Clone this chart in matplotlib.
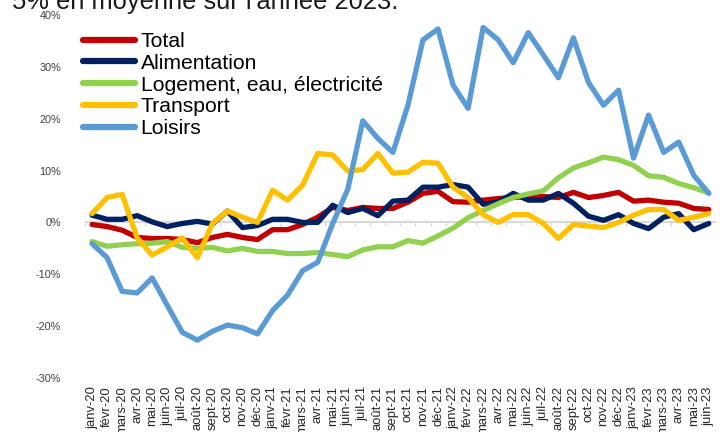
import numpy as np
import matplotlib
matplotlib.use("Agg")
import matplotlib.pyplot as plt

plt.rcParams["font.family"] = ["Liberation Sans", "DejaVu Sans"]

mois = ["janv", "févr", "mars", "avr", "mai", "juin",
        "juil", "août", "sept", "oct", "nov", "déc"]
labels = [m + "-" + a for a in ["20", "21", "22"] for m in mois] + \
         [m + "-23" for m in mois[:6]]

total = [-0.4, -0.8, -1.5, -2.9, -3.1, -3.1, -3.3, -3.9, -2.9, -2.3, -2.9, -3.3,
         -1.4, -1.4, -0.4, 1.0, 2.9, 2.3, 2.9, 2.7, 2.7, 3.9, 5.6, 6.0,
         4.0, 3.9, 4.3, 4.6, 4.8, 5.0, 5.0, 4.8, 5.8, 4.8, 5.2, 5.8,
         4.1, 4.3, 3.9, 3.7, 2.7, 2.5]

alimentation = [1.4, 0.6, 0.6, 1.3, 0.1, -0.8, -0.2, 0.2, -0.3, 2.2, -1.0, -0.6,
                0.6, 0.6, 0.0, 0.0, 3.3, 1.9, 2.7, 1.3, 4.1, 4.3, 6.8, 6.8,
                7.3, 6.8, 3.5, 3.9, 5.6, 4.3, 4.3, 5.6, 3.7, 1.2, 0.4, 1.5,
                -0.2, -1.2, 1.0, 1.7, -1.4, -0.2]

logement = [-3.7, -4.6, -4.3, -4.1, -4.0, -3.7, -4.8, -5.0, -4.8, -5.5, -5.0, -5.6,
            -5.6, -6.0, -6.0, -5.8, -6.2, -6.6, -5.3, -4.7, -4.7, -3.5, -4.0, -2.6,
            -1.1, 0.9, 2.3, 3.6, 4.8, 5.5, 6.1, 8.6, 10.5, 11.5, 12.6, 12.1,
            11.0, 9.0, 8.7, 7.5, 6.7, 5.7]

transport = [1.7, 4.8, 5.4, -3.0, -6.3, -4.7, -3.0, -6.8, -0.2, 2.2, 1.0, 0.0,
             6.2, 4.3, 7.2, 13.3, 13.0, 9.9, 10.2, 13.3, 9.5, 9.7, 11.6, 11.4,
             6.8, 4.8, 1.5, 0.0, 1.5, 1.5, -0.2, -3.1, -0.4, -0.7, -1.0, 0.0,
             1.4, 2.5, 2.5, 0.4, 1.0, 1.7]

loisirs = [-4.1, -6.8, -13.3, -13.6, -10.7, -16.0, -21.2, -22.7, -21.0, -19.8, -20.3, -21.5,
           -17.0, -14.0, -9.3, -7.7, -0.2, 6.4, 19.6, 16.2, 13.5, 22.6, 35.2, 37.3,
           26.5, 22.0, 37.6, 35.2, 30.8, 36.6, 32.3, 27.9, 35.6, 27.0, 22.6, 25.5,
           12.4, 20.7, 13.5, 15.5, 9.1, 5.6]

series = [("Total", total, "#C00000"),
          ("Alimentation", alimentation, "#002060"),
          ("Logement, eau, électricité", logement, "#92D050"),
          ("Transport", transport, "#FFC000"),
          ("Loisirs", loisirs, "#5B9BD5")]

n = len(labels)
x = np.arange(n)

fig = plt.figure(figsize=(7.25, 4.32), dpi=100)
ax = fig.add_axes([0.1166, 0.125, 0.8714, 0.8403])

# zero axis line with small tick marks between categories
ax.axhline(0, color="#D9D9D9", lw=1.5, zorder=1)
ax.vlines(np.arange(n + 1) - 0.5, -0.6, 0, color="#D9D9D9", lw=1, zorder=1)

for name, vals, col in series:
    ax.plot(x, vals, color=col, lw=3.8, label=name, solid_capstyle="round",
            solid_joinstyle="round", zorder=2)

ax.set_xlim(-0.5, n - 0.5)
ax.set_ylim(-30, 40)
ax.set_yticks(np.arange(-30, 41, 10))
ax.set_yticklabels([f"{v}%" for v in range(-30, 41, 10)])
ax.set_xticks(x)
ax.set_xticklabels(labels, rotation=90, va="top", ha="center")
ax.tick_params(axis="y", length=0, pad=17, labelsize=7.8, labelcolor="#404040")
ax.tick_params(axis="x", length=0, pad=6, labelsize=9.4, labelcolor="#262626")
for s in ax.spines.values():
    s.set_visible(False)

leg = ax.legend(loc="upper left", bbox_to_anchor=(-0.003, 0.953), frameon=False,
                fontsize=15.2, handlelength=2.5, handletextpad=0.25,
                labelspacing=0.13, borderpad=0, borderaxespad=0)
for h in leg.get_lines():
    h.set_linewidth(4.5)

fig.text(0.017, 0.979, "5% en moyenne sur l'année 2023.", fontsize=18.4,
         va="baseline", ha="left", color="#1a1a1a")

fig.savefig("out.png", dpi=100)
